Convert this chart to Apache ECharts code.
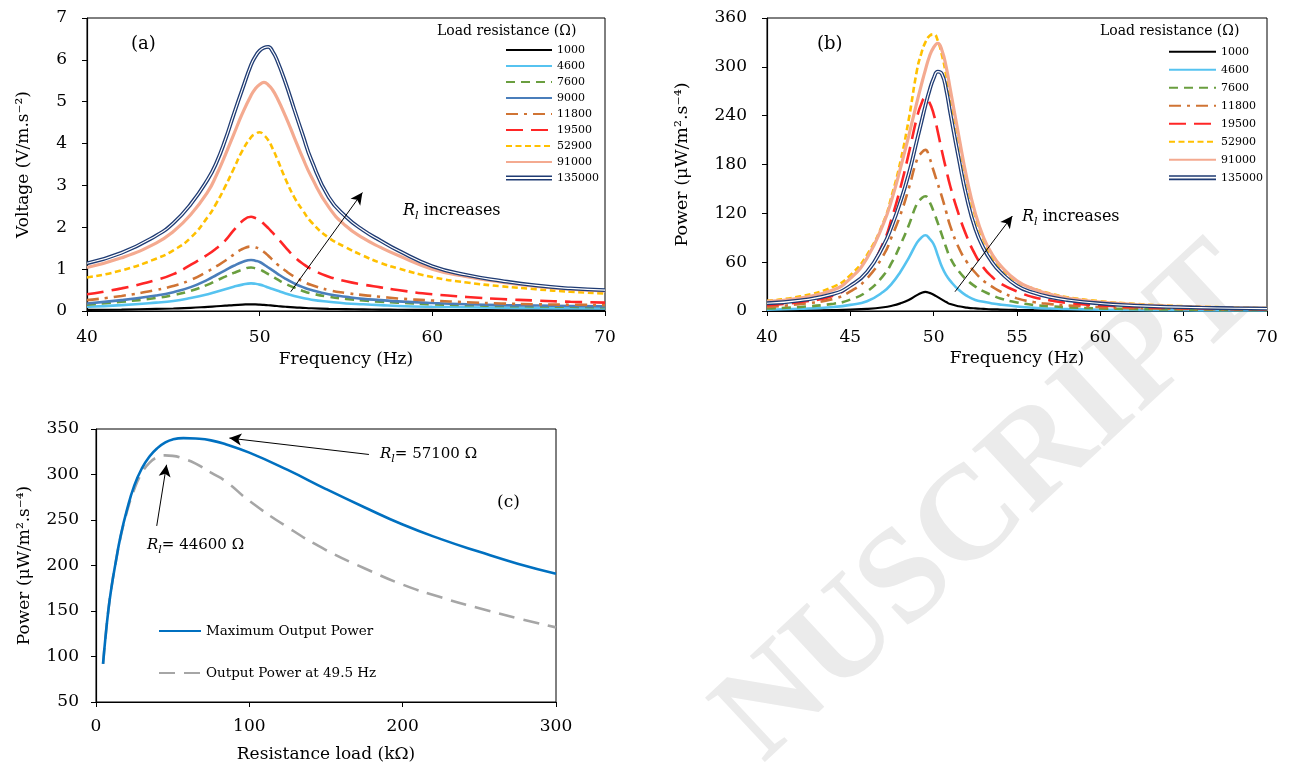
<!DOCTYPE html>
<html><head><meta charset="utf-8">
<script src="https://cdn.jsdelivr.net/npm/echarts@6/dist/echarts.min.js"></script>
<style>html,body{margin:0;padding:0;background:#fff}#c{width:1291px;height:769px}</style>
</head><body><div id="c"></div>
<script>
// ---------- DATA ----------
const loadNamesA = ['1000','4600','7600','9000','11800','19500','52900','91000','135000'];
const loadNamesB = ['1000','4600','7600','11800','19500','52900','91000','135000'];

// Panel (a): frequency (Hz) and voltage (V/m.s^-2)
const freqA    = [40, 42, 44, 45, 46, 47, 47.5, 48, 48.5, 49, 49.5, 49.75, 50, 50.25, 50.5, 50.75, 51, 51.5, 52, 52.5, 53, 54, 55, 56, 57, 58, 60, 62, 64, 66, 68, 70];
const vA1000   = [0.025, 0.035, 0.05, 0.06, 0.075, 0.1, 0.113, 0.127, 0.142, 0.153, 0.16, 0.158, 0.153, 0.146, 0.138, 0.129, 0.12, 0.102, 0.087, 0.076, 0.066, 0.053, 0.045, 0.039, 0.034, 0.03, 0.025, 0.021, 0.018, 0.016, 0.015, 0.014];
const vA4600   = [0.1, 0.14, 0.2, 0.24, 0.31, 0.4, 0.46, 0.52, 0.58, 0.63, 0.66, 0.65, 0.63, 0.6, 0.56, 0.525, 0.49, 0.42, 0.36, 0.31, 0.27, 0.22, 0.18, 0.16, 0.14, 0.12, 0.1, 0.09, 0.08, 0.07, 0.065, 0.06];
const vA7600   = [0.15, 0.22, 0.31, 0.38, 0.48, 0.63, 0.73, 0.82, 0.91, 0.99, 1.04, 1.02, 0.99, 0.94, 0.88, 0.82, 0.76, 0.65, 0.56, 0.48, 0.42, 0.34, 0.29, 0.25, 0.22, 0.2, 0.16, 0.14, 0.12, 0.11, 0.1, 0.09];
const vA9000   = [0.18, 0.26, 0.37, 0.45, 0.57, 0.75, 0.86, 0.97, 1.08, 1.17, 1.22, 1.2, 1.17, 1.11, 1.04, 0.97, 0.9, 0.77, 0.66, 0.57, 0.5, 0.4, 0.34, 0.29, 0.26, 0.23, 0.19, 0.16, 0.14, 0.13, 0.12, 0.11];
const vA11800  = [0.26, 0.36, 0.5, 0.6, 0.74, 0.95, 1.07, 1.2, 1.35, 1.48, 1.54, 1.52, 1.48, 1.41, 1.32, 1.22, 1.12, 0.96, 0.82, 0.71, 0.62, 0.5, 0.43, 0.38, 0.34, 0.3, 0.25, 0.21, 0.18, 0.16, 0.15, 0.14];
const vA19500  = [0.4, 0.54, 0.74, 0.88, 1.1, 1.35, 1.5, 1.68, 1.93, 2.15, 2.25, 2.22, 2.17, 2.08, 1.98, 1.87, 1.76, 1.52, 1.3, 1.13, 1.0, 0.82, 0.71, 0.63, 0.565, 0.5, 0.4, 0.335, 0.285, 0.25, 0.22, 0.2];
const vA52900  = [0.8, 0.97, 1.25, 1.45, 1.75, 2.25, 2.58, 2.97, 3.4, 3.83, 4.15, 4.23, 4.27, 4.2, 4.08, 3.88, 3.65, 3.15, 2.72, 2.4, 2.12, 1.75, 1.52, 1.32, 1.15, 1.02, 0.81, 0.68, 0.59, 0.52, 0.46, 0.42];
const vA91000  = [1.04, 1.27, 1.62, 1.9, 2.3, 2.85, 3.25, 3.72, 4.22, 4.72, 5.15, 5.31, 5.41, 5.46, 5.4, 5.28, 5.1, 4.65, 4.15, 3.65, 3.2, 2.48, 2.03, 1.74, 1.52, 1.33, 1.0, 0.82, 0.69, 0.59, 0.52, 0.48];
const vA135000 = [1.14, 1.39, 1.8, 2.1, 2.55, 3.15, 3.55, 4.08, 4.7, 5.3, 5.88, 6.08, 6.22, 6.29, 6.31, 6.2, 6.0, 5.45, 4.82, 4.2, 3.6, 2.72, 2.25, 1.93, 1.68, 1.45, 1.07, 0.86, 0.72, 0.61, 0.54, 0.5];

// Panel (b): frequency (Hz) and power (uW/m^2.s^-4)
const freqB    = [40, 42, 44, 45, 46, 47, 47.5, 48, 48.5, 49, 49.25, 49.5, 49.75, 50, 50.25, 50.5, 50.75, 51, 51.5, 52, 52.5, 53, 53.5, 54, 55, 56, 57, 58, 60, 62, 64, 66, 68, 70];
const pB1000   = [0.4, 0.7, 1.2, 1.7, 2.6, 4.6, 6.5, 9.4, 13.5, 19.5, 22, 23.5, 22.3, 20, 17, 14, 11, 8.5, 5.8, 4.2, 3.2, 2.6, 2.1, 1.8, 1.3, 1.0, 0.8, 0.65, 0.45, 0.34, 0.27, 0.22, 0.19, 0.16];
const pB4600   = [1.5, 2.7, 5, 7.5, 12, 24, 34, 48, 65, 84, 90, 93, 89, 82, 68, 54, 44, 37, 26, 18.5, 13.5, 11.3, 9.3, 7.8, 5.6, 4, 3, 2.4, 1.6, 1.2, 0.95, 0.78, 0.65, 0.55];
const pB7600   = [3, 5, 9, 14, 24, 44, 60, 81, 105, 132, 138, 141, 134, 122, 108, 93, 78, 65, 49, 38, 30, 24, 19.5, 15.5, 10.5, 7.5, 5.8, 4.6, 3.2, 2.4, 1.9, 1.6, 1.3, 1.1];
const pB11800  = [5, 8.5, 15, 24, 40, 69, 92, 118, 150, 186, 194, 198, 188, 172, 156, 140, 122, 104, 78, 60, 47, 37, 30, 24, 15.5, 11, 8.5, 6.8, 4.7, 3.5, 2.8, 2.3, 1.9, 1.6];
const pB19500  = [7, 11, 19, 31, 48, 85, 115, 151, 193, 238, 254, 262, 256, 242, 220, 196, 174, 153, 119, 91, 69, 53, 42, 34, 24, 17, 13, 10, 6.8, 4.9, 3.8, 3.1, 2.6, 2.2];
const pB52900  = [12.5, 18, 30, 44, 69, 110, 143, 183, 235, 296, 316, 330, 338, 340, 332, 314, 290, 262, 210, 157, 116, 87, 67, 54, 36, 27.5, 21.5, 17, 12, 8.8, 6.7, 5.3, 4.3, 3.6];
const pB91000  = [12, 16, 26, 40, 65, 108, 138, 175, 215, 257, 277, 296, 313, 324, 329, 320, 300, 272, 216, 162, 120, 90, 70, 56, 37, 27, 20.5, 16, 11, 8, 6, 4.8, 3.9, 3.2];
const pB135000 = [9.5, 13, 21, 31, 48, 81, 105, 134, 168, 210, 231, 252, 271, 286, 294, 291, 272, 243, 188, 138, 101, 77, 60, 48, 31, 22.5, 17, 13.5, 9.2, 6.7, 5.1, 4.1, 3.4, 2.9];

// Panel (c): resistance load (kOhm) and power
const loadC = [4.6, 6, 8, 10, 13, 16, 20, 25, 30, 35, 40, 45, 50, 57, 65, 75, 85, 100, 125, 150, 175, 200, 225, 250, 275, 300];
const pMax  = [92, 118, 150, 175, 205, 232, 260, 288, 307, 320, 329, 335, 338.5, 340, 339.5, 337.5, 333, 324, 305, 284, 264, 245, 229, 215, 202, 191];
const p495  = [92, 118, 150, 175, 205, 231, 258, 284, 302, 313, 319, 321, 320.5, 317.5, 312, 302, 292, 271, 242, 217, 197, 179, 165, 153, 142, 132];

// axis ticks
const ticksA = {xmin: 40, xmax: 70, xstep: 10, ymin: 0, ymax: 7, ystep: 1};
const ticksB = {xmin: 40, xmax: 70, xstep: 5, ymin: 0, ymax: 360, ystep: 60};
const ticksC = {xmin: 0, xmax: 300, xstep: 100, ymin: 50, ymax: 350, ystep: 50};

// ---------- STYLE ----------
const FONT = 'DejaVu Serif';
const NAVY = '#1F3B73';
const styleOf = {
  '1000':   {color:'#000000', width:2.2, type:'solid'},
  '4600':   {color:'#56C3F0', width:2.6, type:'solid'},
  '7600':   {color:'#6A9E3F', width:2.6, type:[9,6]},
  '9000':   {color:'#4A7EBB', width:2.6, type:'solid'},
  '11800':  {color:'#D07434', width:2.6, type:[12,6,3,6]},
  '19500':  {color:'#FF2626', width:2.6, type:[17,8]},
  '52900':  {color:'#FFC000', width:2.6, type:[6,3.5]},
  '91000':  {color:'#F4AA90', width:3.2, type:'solid'},
  '135000': {color:NAVY, width:3.8, type:'solid'}
};
const seriesA = {'1000':vA1000,'4600':vA4600,'7600':vA7600,'9000':vA9000,'11800':vA11800,'19500':vA19500,'52900':vA52900,'91000':vA91000,'135000':vA135000};
const seriesB = {'1000':pB1000,'4600':pB4600,'7600':pB7600,'11800':pB11800,'19500':pB19500,'52900':pB52900,'91000':pB91000,'135000':pB135000};

function lineSeries(name, xs, ys, gi, st, extra) {
  return Object.assign({
    type:'line', name: name, xAxisIndex: gi, yAxisIndex: gi,
    data: xs.map((x, i) => [x, ys[i]]),
    smooth: 0.5, symbol: 'none', showSymbol: false,
    lineStyle: {color: st.color, width: st.width, type: st.type},
    itemStyle: {color: st.color},
    emphasis: {disabled: true}, silent: true, animation: false
  }, extra || {});
}
function arrowMark(from, to) {
  return {
    silent: true, animation: false,
    symbol: ['none', 'arrow'], symbolSize: [9, 12],
    label: {show: false}, emphasis: {disabled: true},
    lineStyle: {color: '#000', width: 1, type: 'solid'},
    data: [[{coord: from}, {coord: to}]]
  };
}
function xAxisOf(gi, t, name, gap, lblMargin) {
  return {
    type:'value', gridIndex: gi, min: t.xmin, max: t.xmax, interval: t.xstep,
    name: name, nameLocation:'middle', nameGap: gap,
    nameTextStyle: {fontFamily: FONT, fontSize: 17, color:'#000'},
    axisLine: {show: true, onZero: false, lineStyle: {color:'#000', width: 1.2}},
    axisTick: {show: true, inside: false, length: 5, lineStyle: {color:'#000', width: 1}},
    axisLabel: {color:'#000', fontFamily: FONT, fontSize: 17, margin: lblMargin},
    splitLine: {show: false}
  };
}
function yAxisOf(gi, t, name, gap, lblMargin, nameSize) {
  return {
    type:'value', gridIndex: gi, min: t.ymin, max: t.ymax, interval: t.ystep,
    name: name, nameLocation:'middle', nameGap: gap,
    nameTextStyle: {fontFamily: FONT, fontSize: nameSize, color:'#000'},
    axisLine: {show: true, onZero: false, lineStyle: {color:'#000', width: 1.2}},
    axisTick: {show: true, inside: false, length: 5, lineStyle: {color:'#000', width: 1}},
    axisLabel: {color:'#000', fontFamily: FONT, fontSize: 17, margin: lblMargin},
    splitLine: {show: false}
  };
}

const series = [];
loadNamesA.forEach(n => {
  const extra = n === '1000' ? {markLine: arrowMark([51.8, 0.46], [55.95, 2.83])} : null;
  series.push(lineSeries('a-' + n, freqA, seriesA[n], 0, styleOf[n], extra));
});
series.push(lineSeries('a-135000w', freqA, vA135000, 0, {color:'#ffffff', width:1.2, type:'solid'}));
loadNamesB.forEach(n => {
  const extra = n === '1000' ? {markLine: arrowMark([51.28, 23.7], [54.72, 116.7])} : null;
  series.push(lineSeries('b-' + n, freqB, seriesB[n], 1, styleOf[n], extra));
});
series.push(lineSeries('b-135000w', freqB, pB135000, 1, {color:'#ffffff', width:1.2, type:'solid'}));

const cMax = lineSeries('Maximum Output Power', loadC, pMax, 2, {color:'#0070C0', width:2.6, type:'solid'},
  {markLine: arrowMark([178, 322], [87, 340])});
const c495 = lineSeries('Output Power at 49.5 Hz', loadC, p495, 2, {color:'#A6A6A6', width:2.6, type:[16,9]},
  {markLine: arrowMark([39.6, 243.5], [46, 310.7])});
series.push(c495, cMax);

function legendData(prefix, names, w) {
  return names.map(n => n === '135000'
    ? {name: prefix + n, icon: 'path://M0,0M' + w + ',12M0,3.5H' + w + 'V5.1H0ZM0,6.9H' + w + 'V8.5H0Z',
       itemStyle: {color: NAVY, borderWidth: 0, opacity: 1}}
    : prefix + n);
}

const richR = (size) => ({
  i: {fontFamily: FONT, fontStyle:'italic', fontSize: size, lineHeight: 22, fill:'#000'},
  s: {fontFamily: FONT, fontStyle:'italic', fontSize: 11, lineHeight: 11, verticalAlign:'bottom', fill:'#000'}
});
function txt(x, y, text, size, rich) {
  const st = {text: text, x: 0, y: 0, fontFamily: FONT, fontSize: size, fill:'#000',
              align:'left', verticalAlign:'middle', lineHeight: 22};
  if (rich) st.rich = rich;
  return {type:'text', x: x, y: y, z: 100, silent: true, style: st};
}

const hiddenSymbol = {opacity: 0};
const option = {
  backgroundColor: '#ffffff',
  animation: false,
  grid: [
    {left: 87, top: 18, width: 518, height: 293, show: true, borderColor:'#000', borderWidth: 1, backgroundColor:'transparent', outerBoundsMode:'none', containLabel:false},
    {left: 767, top: 18, width: 500, height: 293, show: true, borderColor:'#000', borderWidth: 1, backgroundColor:'transparent', outerBoundsMode:'none', containLabel:false},
    {left: 96, top: 429, width: 460, height: 273, show: true, borderColor:'#000', borderWidth: 1, backgroundColor:'transparent', outerBoundsMode:'none', containLabel:false}
  ],
  xAxis: [
    xAxisOf(0, ticksA, 'Frequency (Hz)', 40, 18),
    xAxisOf(1, ticksB, 'Frequency (Hz)', 39, 18),
    xAxisOf(2, ticksC, 'Resistance load (kΩ)', 44, 16)
  ],
  yAxis: [
    yAxisOf(0, ticksA, 'Voltage (V/m.s⁻²)', 55, 20, 17),
    yAxisOf(1, ticksB, 'Power (μW/m².s⁻⁴)', 76, 20, 17.5),
    yAxisOf(2, ticksC, 'Power (μW/m².s⁻⁴)', 63, 17, 17)
  ],
  legend: [
    {left: 505, top: 44, orient:'vertical', itemWidth: 46, itemHeight: 12, itemGap: 4, padding: 0,
     selectedMode: false, formatter: n => n.slice(2), itemStyle: hiddenSymbol,
     textStyle: {fontFamily: FONT, fontSize: 11, color:'#000', lineHeight: 12},
     data: legendData('a-', loadNamesA, 46)},
    {left: 1168, top: 45.7, orient:'vertical', itemWidth: 47, itemHeight: 12, itemGap: 6, padding: 0,
     selectedMode: false, formatter: n => n.slice(2), itemStyle: hiddenSymbol,
     textStyle: {fontFamily: FONT, fontSize: 11, color:'#000', lineHeight: 12},
     data: legendData('b-', loadNamesB, 47)},
    {left: 158, top: 624, orient:'vertical', itemWidth: 42, itemHeight: 14, itemGap: 28, padding: 0,
     selectedMode: false, itemStyle: hiddenSymbol,
     textStyle: {fontFamily: FONT, fontSize: 13.5, color:'#000', lineHeight: 14},
     data: ['Maximum Output Power', 'Output Power at 49.5 Hz']}
  ],
  graphic: [
    {type:'text', x: 990, y: 505, rotation: 0.75, z: -10, silent: true,
     style: {text:'NUSCRIPT', x: 0, y: 0, fontFamily:'Liberation Serif', fontWeight:'bold', fontSize: 134,
             fill:'#ebebeb', align:'center', verticalAlign:'middle'}},
    txt(131, 44.5, '(a)', 18),
    txt(817, 44, '(b)', 18),
    txt(497, 503, '(c)', 17),
    txt(437, 31.7, 'Load resistance (Ω)', 14),
    txt(1100, 31.7, 'Load resistance (Ω)', 14),
    txt(403, 211, '{i|R}{s|l} increases', 16, richR(16)),
    txt(1022, 216.5, '{i|R}{s|l} increases', 16, richR(16)),
    txt(380, 454, '{i|R}{s|l}= 57100 Ω', 15, richR(15)),
    txt(147, 545, '{i|R}{s|l}= 44600 Ω', 15, richR(15))
  ],
  series: series
};

const chart = echarts.init(document.getElementById('c'), null, {renderer:'canvas'});
chart.setOption(option);
</script>
</body></html>
